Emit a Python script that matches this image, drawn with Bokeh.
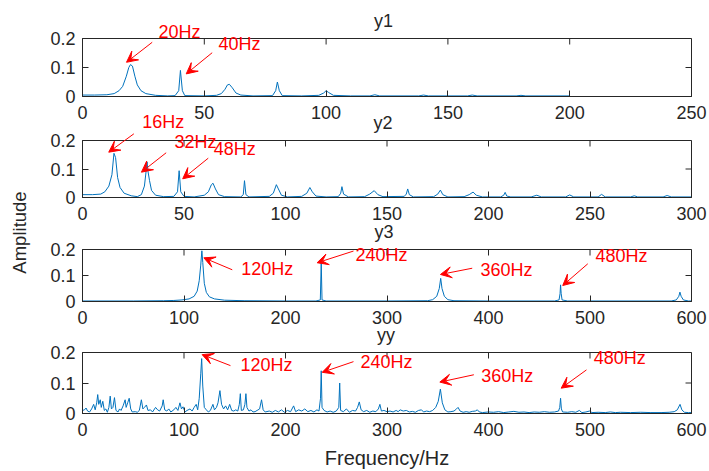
import math

from bokeh.embed import file_html
from bokeh.layouts import column
from bokeh.models import (Arrow, CustomJSTickFormatter, FixedTicker, GridBox, Label,
                          LinearAxis, Range1d, VeeHead)
from bokeh.plotting import figure
from bokeh.resources import INLINE

FONT = "Liberation Sans"
AXIS_COLOR = "#262626"
LINE_COLOR = "#0072BD"
NOTE_COLOR = "#FF0000"
PAGE_W, PAGE_H = 709, 471

# ---- spectra (frequency in Hz, amplitude) ----
y1_freq = [0, 5, 10, 13, 15, 16.5, 18, 19, 19.7, 20.5, 21.5, 22.5, 24, 26, 30, 35,
           38, 39.5, 40.2, 41, 42, 50, 55, 57, 58.5, 59.5, 60.3, 61.5, 63, 65, 70,
           78, 79.3, 80, 80.8, 82, 90, 97, 99, 100, 101, 103, 110, 118, 120, 122,
           138, 140, 142, 158, 160, 162, 178, 180, 182, 200]
y1_amp = [0.005, 0.005, 0.006, 0.01, 0.02, 0.035, 0.07, 0.1, 0.11, 0.105, 0.07, 0.04,
          0.02, 0.01, 0.004, 0.002, 0.003, 0.02, 0.09, 0.02, 0.003, 0.002, 0.004,
          0.01, 0.025, 0.04, 0.042, 0.03, 0.012, 0.005, 0.002, 0.003, 0.02, 0.05,
          0.02, 0.003, 0.002, 0.004, 0.012, 0.02, 0.014, 0.004, 0.002, 0.002, 0.006,
          0.002, 0.002, 0.005, 0.002, 0.002, 0.005, 0.002, 0.002, 0.004, 0.002, 0.002]

y2_freq = [0, 5, 9, 11, 13, 14.5, 15.5, 16.3, 17.3, 18.5, 20.5, 24, 27, 29, 30.5, 31.3,
           31.8, 32.3, 33, 34, 36, 40, 45, 46.8, 47.6, 48.4, 50, 55, 60, 62, 63.5,
           64.3, 65.5, 67, 70, 78, 79.2, 79.8, 80.5, 82, 92, 94, 95.5, 96.5, 98, 101,
           108, 110.5, 112, 113.2, 115, 120, 126, 127.2, 127.8, 128.6, 131, 139,
           141.5, 143.7, 145.5, 148, 158.5, 159.5, 160.2, 161, 163, 173, 175, 176.3,
           177.5, 180, 188, 190.5, 192.4, 194, 197, 206, 207.5, 208.2, 209, 211, 221,
           223.8, 226, 238, 240, 242, 254, 255.7, 257.5, 270, 271.8, 273.5, 286, 288,
           290, 300]
y2_amp = [0.01, 0.01, 0.012, 0.02, 0.04, 0.08, 0.155, 0.14, 0.07, 0.035, 0.015, 0.006,
          0.003, 0.01, 0.04, 0.09, 0.125, 0.09, 0.06, 0.025, 0.008, 0.003, 0.004,
          0.02, 0.094, 0.02, 0.004, 0.002, 0.008, 0.02, 0.045, 0.05, 0.03, 0.01,
          0.003, 0.002, 0.01, 0.059, 0.01, 0.002, 0.004, 0.015, 0.045, 0.03, 0.008,
          0.002, 0.004, 0.015, 0.035, 0.02, 0.005, 0.002, 0.003, 0.015, 0.038, 0.012,
          0.002, 0.003, 0.012, 0.024, 0.01, 0.003, 0.004, 0.012, 0.03, 0.01, 0.002,
          0.003, 0.012, 0.026, 0.01, 0.002, 0.003, 0.01, 0.019, 0.008, 0.002, 0.002,
          0.008, 0.018, 0.005, 0.002, 0.002, 0.008, 0.002, 0.002, 0.009, 0.002, 0.002,
          0.011, 0.002, 0.002, 0.006, 0.002, 0.002, 0.007, 0.002, 0.002]

y3_freq = [0, 50, 80, 90, 98, 105, 110, 113, 115, 116.5, 117.6, 118.5, 120, 122, 125,
           130, 140, 160, 200, 230, 234.3, 235.2, 236, 240, 300, 340, 345, 349, 351.5,
           352.9, 354.2, 356.5, 360, 366, 400, 465, 469.5, 470.5, 471, 471.6, 472.5,
           478, 580, 585, 587.5, 588.6, 589.8, 592, 597, 600]
y3_amp = [0.002, 0.002, 0.003, 0.004, 0.006, 0.01, 0.02, 0.04, 0.08, 0.14, 0.195, 0.15,
          0.07, 0.035, 0.018, 0.01, 0.005, 0.003, 0.002, 0.002, 0.006, 0.149, 0.006,
          0.002, 0.002, 0.003, 0.007, 0.02, 0.05, 0.089, 0.05, 0.02, 0.007, 0.003,
          0.002, 0.002, 0.006, 0.03, 0.064, 0.03, 0.006, 0.002, 0.002, 0.006, 0.02,
          0.036, 0.02, 0.006, 0.002, 0.002]

yy_freq = [0, 2, 3.5, 5, 7, 9, 11, 12.5, 14, 15, 16, 17.5, 18.5, 20, 21.5, 23, 24.5, 26,
           27.3, 28.5, 30, 31.5, 33, 35, 36.5, 38, 40, 42, 43, 44.5, 46, 47.5, 49, 52,
           54, 56, 58, 59.5, 61, 63, 64.5, 67, 69, 72, 74, 76, 78.5, 79.5, 81, 83, 85,
           87, 90, 92, 94, 96, 97.5, 99, 101, 103, 106, 108, 110, 112, 113.5, 115,
           116.5, 117.4, 118.5, 120, 122, 124, 126, 128.5, 130, 132, 133.5, 135.4, 137,
           139, 141, 143, 145, 147, 149, 151, 153, 154.5, 155.5, 156.5, 158.5, 160,
           161, 162, 164, 166, 168, 170, 172, 174.5, 176.4, 178, 180, 184, 187, 190,
           193, 196, 199, 202, 205, 208, 210, 213, 216, 219, 222, 225, 228, 231, 233,
           234.5, 235.2, 236, 238, 241, 244, 247, 250, 252.5, 253.4, 254.3, 257, 260,
           263, 266, 269, 271, 272.7, 274.5, 277, 280, 283, 286, 289, 291.5, 293,
           294.5, 297, 300, 303, 306, 309, 311, 313, 316, 319, 322, 325, 328, 331, 334,
           336, 339, 342, 345, 348, 350.5, 352.6, 354.5, 357, 360, 363, 366, 368.5,
           370, 372, 375, 378, 381, 384, 387, 389, 391, 394, 400, 405, 410, 415, 420,
           425, 430, 435, 440, 445, 450, 455, 460, 465, 469, 470.2, 471, 471.8, 473,
           478, 482, 486, 489.5, 492, 496, 499.5, 502, 508, 515, 520, 525, 530, 540,
           550, 560, 570, 578, 583, 586, 588.7, 590.5, 593, 597, 600]
yy_amp = [0.01, 0.012, 0.018, 0.008, 0.005, 0.015, 0.03, 0.012, 0.035, 0.062, 0.03,
          0.045, 0.02, 0.04, 0.01, 0.015, 0.004, 0.02, 0.057, 0.015, 0.02, 0.052, 0.01,
          0.005, 0.015, 0.01, 0.025, 0.045, 0.02, 0.035, 0.05, 0.015, 0.005, 0.006,
          0.004, 0.01, 0.045, 0.015, 0.02, 0.028, 0.01, 0.012, 0.005, 0.02, 0.012,
          0.008, 0.025, 0.045, 0.012, 0.008, 0.015, 0.005, 0.012, 0.02, 0.01, 0.035,
          0.015, 0.022, 0.005, 0.01, 0.015, 0.008, 0.02, 0.03, 0.012, 0.05, 0.13, 0.18,
          0.09, 0.02, 0.012, 0.005, 0.01, 0.03, 0.012, 0.02, 0.035, 0.075, 0.03, 0.015,
          0.025, 0.012, 0.03, 0.01, 0.008, 0.012, 0.008, 0.03, 0.065, 0.01, 0.012, 0.03,
          0.065, 0.02, 0.008, 0.012, 0.005, 0.006, 0.01, 0.015, 0.045, 0.012, 0.005,
          0.008, 0.004, 0.01, 0.005, 0.012, 0.004, 0.01, 0.006, 0.025, 0.006, 0.012,
          0.008, 0.015, 0.006, 0.01, 0.005, 0.012, 0.008, 0.05, 0.14, 0.02, 0.01,
          0.005, 0.008, 0.004, 0.008, 0.02, 0.1, 0.01, 0.006, 0.015, 0.004, 0.01,
          0.008, 0.02, 0.038, 0.012, 0.006, 0.01, 0.004, 0.008, 0.006, 0.015, 0.03,
          0.008, 0.01, 0.006, 0.008, 0.005, 0.01, 0.006, 0.012, 0.008, 0.01, 0.005,
          0.007, 0.004, 0.01, 0.012, 0.005, 0.008, 0.006, 0.01, 0.02, 0.04, 0.08,
          0.035, 0.012, 0.005, 0.006, 0.008, 0.015, 0.02, 0.008, 0.004, 0.006, 0.004,
          0.007, 0.008, 0.012, 0.005, 0.003, 0.005, 0.004, 0.006, 0.003, 0.005, 0.007,
          0.004, 0.005, 0.003, 0.005, 0.004, 0.006, 0.004, 0.005, 0.008, 0.02, 0.05,
          0.015, 0.005, 0.004, 0.006, 0.004, 0.01, 0.003, 0.005, 0.008, 0.003, 0.004,
          0.003, 0.005, 0.003, 0.004, 0.003, 0.004, 0.003, 0.003, 0.004, 0.006, 0.012,
          0.03, 0.012, 0.004, 0.003, 0.003]

# ---- axis ticks ----
amp_ticks = [0, 0.1, 0.2]
ticks_250 = [0, 50, 100, 150, 200, 250]
ticks_300 = [0, 50, 100, 150, 200, 250, 300]
ticks_600 = [0, 100, 200, 300, 400, 500, 600]

# ---- callouts: text, label (left edge, vertical centre), arrow tail, arrow tip ----
# all positions in each panel's own units (Hz, amplitude)
notes_y1 = [("20Hz", (32.3, 0.2224), (29.7, 0.187), (19.2, 0.118)),
            ("40Hz", (56.8, 0.181), (54.2, 0.151), (43.6, 0.078))]
notes_y2 = [("16Hz", (31.2, 0.2642), (27.1, 0.2235), (14.8, 0.159)),
            ("32Hz", (47.0, 0.194), (42.9, 0.157), (30.8, 0.0888)),
            ("48Hz", (66.2, 0.171), (63.5, 0.138), (51.0, 0.0656))]
notes_y3 = [("120Hz", (158.3, 0.1258), (149.5, 0.122), (121.7, 0.168)),
            ("240Hz", (270.1, 0.180), (268.2, 0.194), (232.6, 0.149)),
            ("360Hz", (392.5, 0.1219), (384.4, 0.128), (353.3, 0.104)),
            ("480Hz", (505.0, 0.175), (497.5, 0.145), (473.0, 0.0615))]
notes_yy = [("120Hz", (155.2, 0.1574), (145.3, 0.157), (117.5, 0.193)),
            ("240Hz", (273.0, 0.1682), (266.1, 0.170), (235.4, 0.135)),
            ("360Hz", (391.5, 0.123), (384.3, 0.127), (350.9, 0.103)),
            ("480Hz", (502.1, 0.1807), (494.9, 0.143), (470.1, 0.083))]

AMP_MAX = 0.2
TICK_LEN = 6
amp_format = CustomJSTickFormatter(code="return String(Number(tick.toFixed(3)));")


def make_axis(ticks, standoff, formatter=None):
    kw = dict(ticker=FixedTicker(ticks=ticks),
              axis_line_color=AXIS_COLOR, axis_line_width=1,
              major_tick_line_color=AXIS_COLOR, major_tick_in=TICK_LEN,
              major_tick_out=0, minor_tick_line_color=None,
              major_label_text_color=AXIS_COLOR, major_label_text_font=FONT,
              major_label_text_font_size="18px", major_label_standoff=standoff)
    if formatter is not None:
        kw["formatter"] = formatter
    return LinearAxis(**kw)


def panel(freq, amp, x_max, x_ticks, height, borders, xlabel=None):
    left, right, top, bottom = borders
    p = figure(width=PAGE_W, height=height,
               x_range=Range1d(0, x_max), y_range=Range1d(0, AMP_MAX),
               x_axis_type=None, y_axis_type=None,
               min_border_left=left, min_border_right=right,
               min_border_top=top, min_border_bottom=bottom,
               output_backend="svg", toolbar_location=None)
    p.outline_line_color = AXIS_COLOR
    frame_w = PAGE_W - left - right
    frame_h = height - top - bottom

    xb = make_axis(x_ticks, 9)
    if xlabel:
        xb.axis_label = xlabel
        xb.axis_label_text_font = FONT
        xb.axis_label_text_font_size = "20px"
        xb.axis_label_text_font_style = "normal"
        xb.axis_label_text_color = AXIS_COLOR
        xb.axis_label_standoff = 8
    p.add_layout(xb, "below")
    p.add_layout(make_axis(amp_ticks, 7, amp_format), "left")

    # inward tick marks along the top and right edges of the box
    dy = TICK_LEN * AMP_MAX / frame_h
    dx = TICK_LEN * x_max / frame_w
    p.segment(x0=x_ticks, y0=[AMP_MAX] * len(x_ticks),
              x1=x_ticks, y1=[AMP_MAX - dy] * len(x_ticks),
              line_color=AXIS_COLOR, line_width=1)
    p.segment(x0=[x_max] * len(amp_ticks), y0=amp_ticks,
              x1=[x_max - dx] * len(amp_ticks), y1=amp_ticks,
              line_color=AXIS_COLOR, line_width=1)

    p.line(freq, amp, line_color=LINE_COLOR, line_width=1)
    return p


# panel specs: title, data, x extent, ticks, canvas height, borders (l, r, t, b), notes
specs = [
    ("y1", y1_freq, y1_amp, 250, ticks_250, 124, (79, 18, 38, 28), notes_y1),
    ("y2", y2_freq, y2_amp, 300, ticks_300, 102, (78, 18, 16, 29), notes_y2),
    ("y3", y3_freq, y3_amp, 600, ticks_600, 105, (79, 17, 23, 30), notes_y3),
    ("yy", yy_freq, yy_amp, 600, ticks_600, 140, (82, 16, 21, 58), notes_yy),
]

panels = []
# transparent layer over the whole page for titles and callouts
overlay = figure(width=PAGE_W, height=PAGE_H,
                 x_range=Range1d(0, PAGE_W), y_range=Range1d(0, PAGE_H),
                 x_axis_type=None, y_axis_type=None, min_border=0,
                 output_backend="svg", toolbar_location=None)
overlay.outline_line_color = None
overlay.background_fill_color = None
overlay.border_fill_color = None

top_offset = 0
for i, (title, freq, amp, x_max, x_ticks, height, borders, notes) in enumerate(specs):
    left, right, top, bottom = borders
    panels.append(panel(freq, amp, x_max, x_ticks, height, borders,
                        xlabel="Frequency/Hz" if i == len(specs) - 1 else None))

    # page position of this panel's plotting box
    fl, fr = left, PAGE_W - right
    ft, fb = top_offset + top, top_offset + height - bottom

    def to_overlay(f, a, fl=fl, fr=fr, ft=ft, fb=fb, x_max=x_max):
        px = fl + f / x_max * (fr - fl)
        py = fb - a / AMP_MAX * (fb - ft)
        return px, PAGE_H - py

    overlay.add_layout(Label(x=(fl + fr) / 2 - 2, y=PAGE_H - (ft - 18), text=title,
                             text_align="center", text_baseline="middle",
                             text_font=FONT, text_font_size="18px",
                             text_color=AXIS_COLOR))
    for text, (lx, ly), (tx, ty), (hx, hy) in notes:
        x0, y0 = to_overlay(tx, ty)
        x1, y1 = to_overlay(hx, hy)
        overlay.add_layout(Arrow(x_start=x0, y_start=y0, x_end=x1, y_end=y1,
                                 line_color=NOTE_COLOR, line_width=1,
                                 end=VeeHead(size=11, fill_color=NOTE_COLOR,
                                             line_color=NOTE_COLOR, line_width=1)))
        ax, ay = to_overlay(lx, ly)
        overlay.add_layout(Label(x=ax, y=ay, text=text, text_align="left",
                                 text_baseline="middle", text_font=FONT,
                                 text_font_size="18px", text_color=NOTE_COLOR))
    top_offset += height

# shared amplitude label on the left
overlay.add_layout(Label(x=19, y=PAGE_H - 232, text="Amplitude", angle=math.pi / 2,
                         text_align="center", text_baseline="middle",
                         text_font=FONT, text_font_size="18.5px",
                         text_color=AXIS_COLOR))

base = column(*panels)
layout = GridBox(children=[(base, 0, 0), (overlay, 0, 0)])

open("out.html", "w").write(file_html(layout, INLINE))
